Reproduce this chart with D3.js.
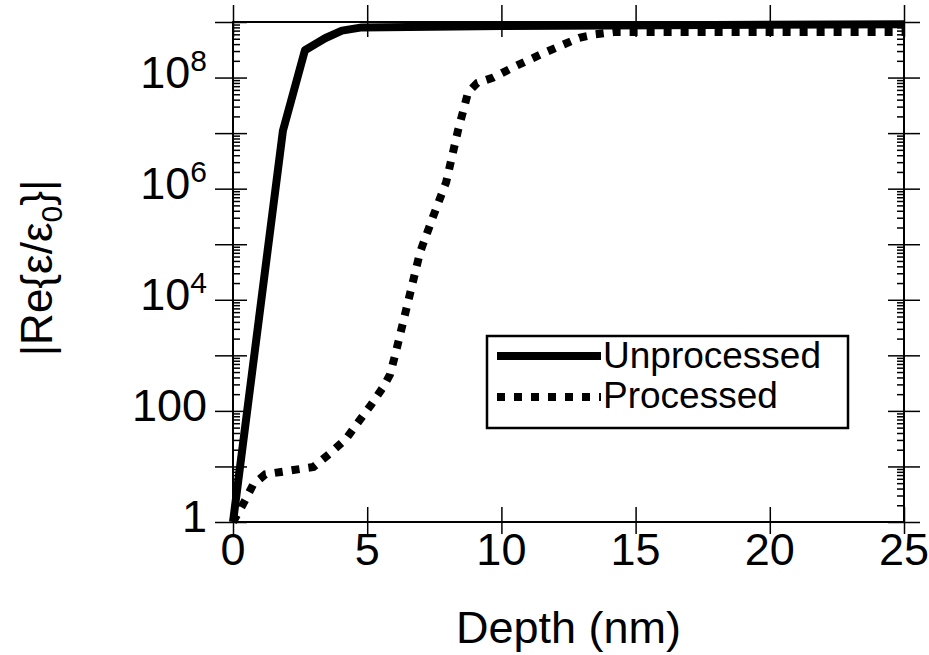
<!DOCTYPE html>
<html>
<head>
<meta charset="utf-8">
<style>
  body { margin: 0; background: #fff; }
  svg text { font-family: "Liberation Sans", Arial, Helvetica, sans-serif; fill: #000; }
  .axis path { display: none; }
  .axis line { stroke: #000; stroke-width: 1.5; }
  .frame { fill: none; stroke: #000; stroke-width: 2; }
</style>
</head>
<body>
<svg width="929" height="655"></svg>
<script src="https://cdn.jsdelivr.net/npm/d3@7"></script>
<script>
// values
var depthUnproc = [0, 1.86, 2.68, 3.43, 4.06, 4.8, 10, 25];
var epsUnproc   = [1, 1.1e7, 3.1e8, 5.1e8, 7e8, 8e8, 8.5e8, 9.1e8];

var depthProc = [0, 0.4, 0.75, 1.2, 3.0, 3.6, 4.2, 4.7, 5.15, 5.6, 5.85, 6.05, 6.5, 6.97, 7.45, 7.94, 8.38, 8.76, 9.1, 9.7, 10.4, 11.6, 12.9, 13.5, 14.2, 25];
var epsProc   = [1, 2.2, 4.7, 7.2, 9.8, 17, 31, 66, 130, 270, 450, 1050, 8300, 7.2e4, 3.1e5, 1.3e6, 1.1e7, 5.4e7, 8e7, 1e8, 1.5e8, 2.8e8, 5.2e8, 6e8, 6.6e8, 6.6e8];

var seriesNames = ["Unprocessed", "Processed"];
var xTicks = [0, 5, 10, 15, 20, 25];
var yLabelVals = [1, 100, 1e4, 1e6, 1e8];
var yLabelBase = ["1", "100", "10", "10", "10"];
var yLabelSup  = ["", "", "4", "6", "8"];

var margin = {top: 22, left: 233},
    width = 671,
    height = 500;

var x = d3.scaleLinear().domain([0, 25]).range([0, width]);
var y = d3.scaleLog().domain([1, 1e9]).range([height, 0]);

var svg = d3.select("svg");
var g = svg.append("g")
    .attr("transform", "translate(" + margin.left + "," + margin.top + ")");

// decade ticks and 2..9 minor ticks
var decades = [];
var minors = [];
for (var d = 0; d <= 9; d++) {
  decades.push(Math.pow(10, d));
  if (d < 9) for (var m = 2; m <= 9; m++) minors.push(m * Math.pow(10, d));
}

// left axis: outward + inward major, inward minor
g.append("g").attr("class", "axis")
  .call(d3.axisLeft(y).tickValues(decades).tickSize(18).tickFormat(""));
g.append("g").attr("class", "axis")
  .call(d3.axisLeft(y).tickValues(decades).tickSize(-14).tickFormat(""));
g.append("g").attr("class", "axis")
  .call(d3.axisLeft(y).tickValues(minors).tickSize(-7).tickFormat(""));

// right axis
var right = g.append("g").attr("transform", "translate(" + width + ",0)");
right.append("g").attr("class", "axis")
  .call(d3.axisRight(y).tickValues(decades).tickSize(16).tickFormat(""));
right.append("g").attr("class", "axis")
  .call(d3.axisRight(y).tickValues(decades).tickSize(-16).tickFormat(""));
right.append("g").attr("class", "axis")
  .call(d3.axisRight(y).tickValues(minors).tickSize(-7).tickFormat(""));

// bottom and top axes
var bottom = g.append("g").attr("transform", "translate(0," + height + ")");
bottom.append("g").attr("class", "axis")
  .call(d3.axisBottom(x).tickValues(xTicks).tickSize(12).tickFormat(""));
bottom.append("g").attr("class", "axis")
  .call(d3.axisBottom(x).tickValues(xTicks).tickSize(-15).tickFormat(""));
g.append("g").attr("class", "axis")
  .call(d3.axisTop(x).tickValues(xTicks).tickSize(17).tickFormat(""));
g.append("g").attr("class", "axis")
  .call(d3.axisTop(x).tickValues(xTicks).tickSize(-15).tickFormat(""));

g.append("rect").attr("class", "frame")
  .attr("width", width).attr("height", height);

// tick labels
g.selectAll(".xlab")
  .data(xTicks)
  .enter().append("text")
  .attr("x", function(d) { return x(d); })
  .attr("y", height + 43)
  .attr("text-anchor", "middle")
  .style("font-size", "45px")
  .text(function(d) { return d; });

var ylab = g.selectAll(".ylab")
  .data(yLabelVals)
  .enter().append("text")
  .attr("x", -26)
  .attr("y", function(d) { return y(d) + 10; })
  .attr("text-anchor", "end")
  .style("font-size", "45px");
ylab.append("tspan").text(function(d, i) { return yLabelBase[i]; });
ylab.append("tspan")
  .attr("dy", -17)
  .style("font-size", "30px")
  .text(function(d, i) { return yLabelSup[i]; });

// axis titles
svg.append("text")
  .attr("x", margin.left + width / 2)
  .attr("y", 643)
  .attr("text-anchor", "middle")
  .style("font-size", "45px")
  .text("Depth (nm)");

var yt = svg.append("text")
  .attr("transform", "translate(52,268) rotate(-90)")
  .attr("text-anchor", "middle")
  .style("font-size", "44px");
yt.append("tspan").text("|Re{ε/ε");
yt.append("tspan").attr("dy", 10).style("font-size", "30px").text("0");
yt.append("tspan").attr("dy", -10).text("}|");

// curves
var line = d3.line()
    .x(function(d) { return x(d[0]); })
    .y(function(d) { return y(d[1]); });

g.append("path")
  .attr("d", line(d3.zip(depthProc, epsProc)))
  .attr("fill", "none")
  .attr("stroke", "#000")
  .attr("stroke-width", 8)
  .attr("stroke-dasharray", "8,9");

g.append("path")
  .attr("d", line(d3.zip(depthUnproc, epsUnproc)))
  .attr("fill", "none")
  .attr("stroke", "#000")
  .attr("stroke-width", 8)
  .attr("stroke-linejoin", "round");

// legend
var leg = svg.append("g");
leg.append("rect")
  .attr("x", 487).attr("y", 336)
  .attr("width", 361).attr("height", 92)
  .attr("fill", "#fff")
  .attr("stroke", "#000")
  .attr("stroke-width", 2.5);
leg.append("line")
  .attr("x1", 497).attr("x2", 601).attr("y1", 356).attr("y2", 356)
  .attr("stroke", "#000").attr("stroke-width", 8);
leg.append("line")
  .attr("x1", 497).attr("x2", 601).attr("y1", 397).attr("y2", 397)
  .attr("stroke", "#000").attr("stroke-width", 8)
  .attr("stroke-dasharray", "8,9");
leg.selectAll(".legtext")
  .data(seriesNames)
  .enter().append("text")
  .attr("x", 603)
  .attr("y", function(d, i) { return 368 + i * 40; })
  .style("font-size", "37px")
  .text(function(d) { return d; });
</script>
</body>
</html>
